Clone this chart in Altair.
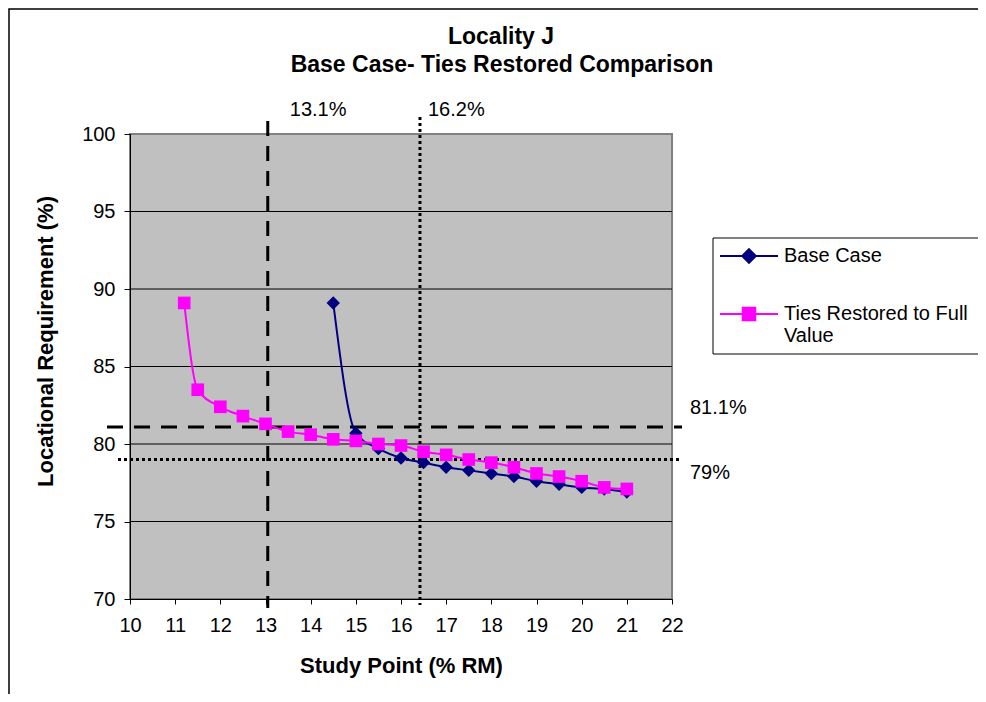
import altair as alt
import pandas as pd

# ---------------- data ----------------
series_names = ["Base Case", "Ties Restored to Full Value"]
tie_label_lines = ["Ties Restored to Full", "Value"]

base_x = [14.5, 15, 15.5, 16, 16.5, 17, 17.5, 18, 18.5, 19, 19.5, 20, 20.5, 21]
base_y = [89.1, 80.7, 79.7, 79.1, 78.8, 78.5, 78.3, 78.1, 77.9, 77.6, 77.4, 77.2, 77.1, 76.9]

tie_x = [11.2, 11.5, 12, 12.5, 13, 13.5, 14, 14.5, 15, 15.5, 16, 16.5, 17, 17.5,
         18, 18.5, 19, 19.5, 20, 20.5, 21]
tie_y = [89.1, 83.5, 82.4, 81.8, 81.3, 80.8, 80.6, 80.3, 80.2, 80.0, 79.9, 79.5, 79.3, 79.0,
         78.8, 78.5, 78.1, 77.9, 77.6, 77.2, 77.1]

vline_vals = [13.05, 16.42]
vline_labels = ["13.1%", "16.2%"]
hline_vals = [81.1, 79.0]
hline_labels = ["81.1%", "79%"]

x_ticks = list(range(10, 23))
y_ticks = list(range(70, 101, 5))

title_lines = ["Locality J", "Base Case- Ties Restored Comparison"]
x_title = "Study Point (% RM)"
y_title = "Locational Requirement (%)"

# ---------------- style ----------------
FONT = "Liberation Sans"
NAVY = "#000080"
MAGENTA = "#FF00FF"
W, H = 542, 465

base_df = pd.DataFrame({"x": base_x, "y": base_y, "series": series_names[0]})
tie_df = pd.DataFrame({"x": tie_x, "y": tie_y, "series": series_names[1]})
grid_df = pd.DataFrame({"y": y_ticks[1:-1]})
one = pd.DataFrame({"a": [0]})

xs = alt.Scale(domain=[10, 22], nice=False, zero=False)
ys = alt.Scale(domain=[70, 100], nice=False, zero=False)

X = alt.X("x:Q", scale=xs, axis=alt.Axis(
    values=x_ticks, title=x_title, grid=False, domainColor="black", domainWidth=1,
    tickColor="black", tickSize=5, labelFont=FONT, labelFontSize=20, labelColor="black",
    labelPadding=11, labelFlush=False, titleFont=FONT, titleFontSize=22,
    titleFontWeight="bold", titleColor="black", titleX=W / 2, titleY=66,
    titleBaseline="middle"))
Y = alt.Y("y:Q", scale=ys, axis=alt.Axis(
    values=y_ticks, title=y_title, grid=False, domainColor="black", domainWidth=1,
    tickColor="black", tickSize=6, labelFont=FONT, labelFontSize=20, labelColor="black",
    labelPadding=9, labelFlush=False, titleFont=FONT, titleFontSize=22,
    titleFontWeight="bold", titleColor="black", titleX=-85, titleY=207, titleAngle=270,
    titleAlign="center", titleBaseline="middle"))

# outer chart frame
frame = alt.Chart(one).mark_rect(fillOpacity=0, stroke="black", strokeWidth=1.5).encode(
    x=alt.value(-121), x2=alt.value(900), y=alt.value(-125), y2=alt.value(640))

grid = alt.Chart(grid_df).mark_rule(color="black", strokeWidth=1).encode(y=Y)

# chart title (two lines)
title_style = dict(font=FONT, fontSize=23, fontWeight="bold", color="black",
                   align="center", baseline="middle")
t1 = alt.Chart(pd.DataFrame({"t": [title_lines[0]]})).mark_text(**title_style).encode(
    text="t:N", x=alt.value(371), y=alt.value(-97))
t2 = alt.Chart(pd.DataFrame({"t": [title_lines[1]]})).mark_text(**title_style).encode(
    text="t:N", x=alt.value(372), y=alt.value(-69))

# reference lines
v1 = alt.Chart(pd.DataFrame({"x": [vline_vals[0]], "t": [vline_labels[0]]}))
v2 = alt.Chart(pd.DataFrame({"x": [vline_vals[1]], "t": [vline_labels[1]]}))
h1 = alt.Chart(pd.DataFrame({"y": [hline_vals[0]], "t": [hline_labels[0]]}))
h2 = alt.Chart(pd.DataFrame({"y": [hline_vals[1]], "t": [hline_labels[1]]}))

v1_rule = v1.mark_rule(color="black", strokeWidth=3, strokeDash=[15, 10]).encode(
    x=X, y=alt.value(-13), y2=alt.value(H + 9))
v2_rule = v2.mark_rule(color="black", strokeWidth=3, strokeDash=[3, 3]).encode(
    x=X, y=alt.value(-17), y2=alt.value(H + 6))
h1_rule = h1.mark_rule(color="black", strokeWidth=3, strokeDash=[16, 11]).encode(
    y=Y, x=alt.value(-23), x2=alt.value(W + 10))
h2_rule = h2.mark_rule(color="black", strokeWidth=3, strokeDash=[3, 3]).encode(
    y=Y, x=alt.value(-12), x2=alt.value(W + 10))

txt = dict(font=FONT, fontSize=20, color="black", align="left", baseline="middle")
v1_txt = v1.mark_text(dx=22, **txt).encode(x=X, y=alt.value(-24), text="t:N")
v2_txt = v2.mark_text(dx=8, **txt).encode(x=X, y=alt.value(-24), text="t:N")
h1_txt = h1.mark_text(dy=-19, **txt).encode(y=Y, x=alt.value(560), text="t:N")
h2_txt = h2.mark_text(dy=13, **txt).encode(y=Y, x=alt.value(560), text="t:N")

# legend box
legend_box = alt.Chart(one).mark_rect(fill="white", stroke="black", strokeWidth=1).encode(
    x=alt.value(583), x2=alt.value(880), y=alt.value(104), y2=alt.value(220))

# series
R = 29.0
dia = 6.8 / R
sq = 6.3 / R
DIAMOND_PATH = f"M-1,0H1M0,{-dia:.3f}L{dia:.3f},0L0,{dia:.3f}L{-dia:.3f},0Z"
SQUARE_PATH = f"M-1,0H1M{-sq:.3f},{-sq:.3f}H{sq:.3f}V{sq:.3f}H{-sq:.3f}Z"

leg_common = dict(title=None, orient="none", padding=0, symbolSize=(2 * R) ** 2,
                  symbolStrokeWidth=2, labelFont=FONT, labelFontSize=20,
                  labelColor="black", labelOffset=5, labelLimit=400)

base_line = alt.Chart(base_df).mark_line(interpolate="monotone", strokeWidth=2,
                                         color=NAVY).encode(x=X, y=Y)
base_pts = alt.Chart(base_df).mark_point(shape="diamond", filled=True, size=180,
                                         opacity=1).encode(
    x=X, y=Y,
    color=alt.Color("series:N", scale=alt.Scale(domain=[series_names[0]], range=[NAVY]),
                    legend=alt.Legend(legendX=589, legendY=92, symbolType=DIAMOND_PATH,
                                      symbolStrokeColor=NAVY, symbolFillColor=NAVY,
                                      **leg_common)))

tie_line = alt.Chart(tie_df).mark_line(interpolate="monotone", strokeWidth=2,
                                       color=MAGENTA).encode(x=X, y=Y)
tie_pts = alt.Chart(tie_df).mark_point(shape="square", filled=True, size=160,
                                       opacity=1).encode(
    x=X, y=Y,
    color=alt.Color("series:N", scale=alt.Scale(domain=[series_names[1]], range=[MAGENTA]),
                    legend=alt.Legend(legendX=589, legendY=150, symbolType=SQUARE_PATH,
                                      symbolStrokeColor=MAGENTA, symbolFillColor=MAGENTA,
                                      labelExpr=str(tie_label_lines),
                                      **leg_common)))

chart = alt.layer(
    frame, grid, legend_box, t1, t2,
    v1_rule, v2_rule, h1_rule, h2_rule,
    base_line, base_pts, tie_line, tie_pts,
    v1_txt, v2_txt, h1_txt, h2_txt,
).resolve_scale(color="independent").properties(
    width=W, height=H,
    autosize=alt.AutoSizeParams(type="none"),
    padding={"left": 122, "top": 126, "right": 306, "bottom": 95},
).configure_view(fill="#C0C0C0", stroke="#808080", strokeWidth=2)

chart.save("out.html", embed_options={"renderer": "svg", "actions": False})
